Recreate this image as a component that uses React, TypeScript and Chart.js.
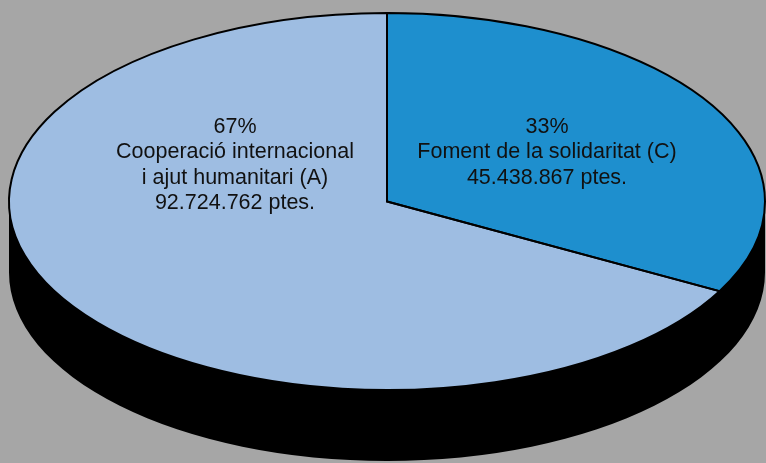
import React, { useEffect, useRef } from "react";
import { Chart, registerables } from "chart.js";

Chart.register(...registerables);

// ---- data ----
const categories: string[][] = [
  ["Foment de la solidaritat (C)"],
  ["Cooperació internacional", "i ajut humanitari (A)"],
];
const amounts: number[] = [45438867, 92724762];
const unit = "ptes.";

// ---- style / layout ----
const W = 766;
const H = 463;
const BG = "#a6a6a6";
const COLORS = ["#1e8fce", "#9ebde2"];
const ELLIPSE = { cx: 387, cy: 201.5, rx: 378, ry: 188.5, depth: 71 };
const LABEL_POS = [
  { x: 547, y: 127 },
  { x: 235, y: 127 },
];
const FONT = '21.5px "Liberation Sans", Arial, sans-serif';
const LINE_H = 25.5;

const fmt = (v: number) => String(v).replace(/\B(?=(\d{3})+(?!\d))/g, ".");

const pie3d = {
  id: "pie3d",
  beforeDatasetsDraw(chart: any) {
    const ctx = chart.ctx as CanvasRenderingContext2D;
    const meta = chart.getDatasetMeta(0);
    const a = meta.data[0] as any;
    const { cx, cy, rx, ry, depth } = ELLIPSE;
    // extruded side
    ctx.save();
    ctx.fillStyle = "#000";
    ctx.beginPath();
    ctx.ellipse(cx, cy, rx, ry, 0, 0, Math.PI);
    ctx.lineTo(cx - rx, cy + depth);
    ctx.ellipse(cx, cy + depth, rx, ry, 0, Math.PI, 0, true);
    ctx.closePath();
    ctx.fill();
    ctx.restore();
    // squash the circular pie into the ellipse
    ctx.save();
    ctx.translate(cx, cy);
    ctx.scale(rx / a.outerRadius, ry / a.outerRadius);
    ctx.translate(-a.x, -a.y);
  },
  afterDatasetsDraw(chart: any) {
    const ctx = chart.ctx as CanvasRenderingContext2D;
    ctx.restore();
    const meta = chart.getDatasetMeta(0);
    const { cx, cy, rx, ry } = ELLIPSE;
    // outlines with uniform stroke width
    meta.data.forEach((el: any) => {
      ctx.save();
      ctx.translate(cx, cy);
      ctx.scale(rx / el.outerRadius, ry / el.outerRadius);
      ctx.translate(-el.x, -el.y);
      ctx.beginPath();
      ctx.moveTo(el.x, el.y);
      ctx.arc(el.x, el.y, el.outerRadius, el.startAngle, el.endAngle);
      ctx.closePath();
      ctx.restore();
      ctx.save();
      ctx.strokeStyle = "#000";
      ctx.lineWidth = 2;
      ctx.lineJoin = "miter";
      ctx.stroke();
      ctx.restore();
    });
    // labels
    const total = amounts.reduce((s, v) => s + v, 0);
    ctx.save();
    ctx.font = FONT;
    ctx.fillStyle = "#111";
    ctx.textAlign = "center";
    ctx.textBaseline = "middle";
    amounts.forEach((v, i) => {
      const lines = [
        Math.round((v / total) * 100) + "%",
        ...categories[i],
        fmt(v) + " " + unit,
      ];
      const p = LABEL_POS[i];
      lines.forEach((t, k) => ctx.fillText(t, p.x, p.y + k * LINE_H));
    });
    ctx.restore();
  },
};

export default function App() {
  const ref = useRef<HTMLCanvasElement>(null);
  useEffect(() => {
    document.body.style.margin = "0";
    const chart = new Chart(ref.current!, {
      type: "pie",
      data: {
        labels: categories.map((c) => c.join(" ")),
        datasets: [
          {
            data: amounts,
            backgroundColor: COLORS,
            borderWidth: 0,
          },
        ],
      },
      options: {
        responsive: false,
        animation: false,
        layout: { padding: 0 },
        plugins: { legend: { display: false }, tooltip: { enabled: false } },
      },
      plugins: [pie3d],
    });
    return () => chart.destroy();
  }, []);
  return (
    <div style={{ position: "fixed", left: 0, top: 0, width: W, height: H, background: BG }}>
      <canvas ref={ref} width={W} height={H} />
    </div>
  );
}
